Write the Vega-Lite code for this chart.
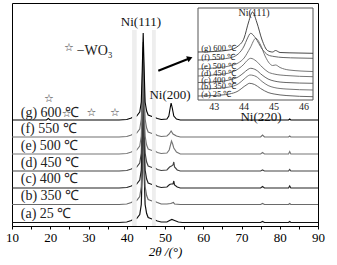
{
 "$schema": "https://vega.github.io/schema/vega-lite/v6.json",
 "width": 306, "height": 223,
 "autosize": "none",
 "padding": {"left": 12, "top": 3, "right": 19, "bottom": 39},
 "background": "white",
 "config": {"view": {"stroke": "#000", "strokeWidth": 1}},
 "datasets": {
  "main": [
   {"s":"a","x":10,"y":4.5},{"s":"a","x":38,"y":4.5},{"s":"a","x":40,"y":5},{"s":"a","x":41.2,"y":6.5},{"s":"a","x":41.6,"y":7.5},{"s":"a","x":42.6,"y":8.5},{"s":"a","x":43.4,"y":12.5},{"s":"a","x":43.8,"y":22.5},{"s":"a","x":44.05,"y":54.5},{"s":"a","x":44.3,"y":160},{"s":"a","x":44.55,"y":54.5},{"s":"a","x":44.8,"y":22.5},{"s":"a","x":45.2,"y":13.5},{"s":"a","x":45.6,"y":9.5},{"s":"a","x":46.6,"y":8},{"s":"a","x":47.4,"y":7},{"s":"a","x":48,"y":6},{"s":"a","x":49,"y":5},{"s":"a","x":50.5,"y":5},{"s":"a","x":51.2,"y":6.5},{"s":"a","x":51.8,"y":7.5},{"s":"a","x":52.5,"y":6.5},{"s":"a","x":53.5,"y":5},{"s":"a","x":54.5,"y":4.5},{"s":"a","x":75,"y":4.5},{"s":"a","x":75.5,"y":5.5},{"s":"a","x":76,"y":4.5},{"s":"a","x":82.3,"y":4.5},{"s":"a","x":82.6,"y":5.5},{"s":"a","x":82.9,"y":4.5},{"s":"a","x":90,"y":4.5},
   {"s":"b","x":10,"y":22.5},{"s":"b","x":38,"y":22.5},{"s":"b","x":40,"y":23},{"s":"b","x":41.2,"y":24.5},{"s":"b","x":41.6,"y":25.5},{"s":"b","x":42.6,"y":26.5},{"s":"b","x":43.4,"y":30.5},{"s":"b","x":43.8,"y":40.5},{"s":"b","x":44.05,"y":72.5},{"s":"b","x":44.3,"y":165},{"s":"b","x":44.55,"y":72.5},{"s":"b","x":44.8,"y":40.5},{"s":"b","x":45.2,"y":31.5},{"s":"b","x":45.6,"y":27.5},{"s":"b","x":46.6,"y":26},{"s":"b","x":47.4,"y":25.5},{"s":"b","x":48,"y":24.5},{"s":"b","x":49,"y":23},{"s":"b","x":50.5,"y":23},{"s":"b","x":51.5,"y":23.5},{"s":"b","x":52.2,"y":24.5},{"s":"b","x":52.5,"y":23},{"s":"b","x":54,"y":22.5},{"s":"b","x":75,"y":22.5},{"s":"b","x":75.5,"y":23.5},{"s":"b","x":76,"y":22.5},{"s":"b","x":82.3,"y":22.5},{"s":"b","x":82.6,"y":23.5},{"s":"b","x":82.9,"y":22.5},{"s":"b","x":90,"y":22.5},
   {"s":"c","x":10,"y":39},{"s":"c","x":38,"y":39},{"s":"c","x":40,"y":39.5},{"s":"c","x":41.2,"y":41},{"s":"c","x":41.6,"y":42},{"s":"c","x":42.6,"y":43},{"s":"c","x":43.4,"y":47},{"s":"c","x":43.8,"y":57},{"s":"c","x":44.05,"y":89},{"s":"c","x":44.3,"y":170},{"s":"c","x":44.55,"y":89},{"s":"c","x":44.8,"y":57},{"s":"c","x":45.2,"y":48},{"s":"c","x":45.6,"y":44},{"s":"c","x":46.6,"y":42.5},{"s":"c","x":47.4,"y":42},{"s":"c","x":48,"y":40.5},{"s":"c","x":49,"y":39.5},{"s":"c","x":50.5,"y":40},{"s":"c","x":51.2,"y":42.5},{"s":"c","x":51.6,"y":43},{"s":"c","x":52.1,"y":43},{"s":"c","x":52.3,"y":46},{"s":"c","x":52.5,"y":42},{"s":"c","x":53.2,"y":40},{"s":"c","x":54,"y":39},{"s":"c","x":75,"y":39},{"s":"c","x":75.5,"y":40.5},{"s":"c","x":76,"y":39},{"s":"c","x":82.3,"y":39},{"s":"c","x":82.6,"y":41},{"s":"c","x":82.9,"y":39},{"s":"c","x":90,"y":39},
   {"s":"d","x":10,"y":56},{"s":"d","x":38,"y":56},{"s":"d","x":40,"y":56.5},{"s":"d","x":41.2,"y":58},{"s":"d","x":41.6,"y":59},{"s":"d","x":42.6,"y":60},{"s":"d","x":43.4,"y":64},{"s":"d","x":43.8,"y":74},{"s":"d","x":44.05,"y":106},{"s":"d","x":44.3,"y":175},{"s":"d","x":44.55,"y":106},{"s":"d","x":44.8,"y":74},{"s":"d","x":45.2,"y":65},{"s":"d","x":45.6,"y":61},{"s":"d","x":46.6,"y":59.5},{"s":"d","x":47.4,"y":59},{"s":"d","x":48,"y":57.5},{"s":"d","x":49,"y":56.5},{"s":"d","x":50.5,"y":57},{"s":"d","x":51.2,"y":60},{"s":"d","x":51.7,"y":61},{"s":"d","x":52.1,"y":62},{"s":"d","x":52.3,"y":65},{"s":"d","x":52.5,"y":60},{"s":"d","x":53.2,"y":57},{"s":"d","x":54,"y":56},{"s":"d","x":75,"y":56},{"s":"d","x":75.5,"y":57},{"s":"d","x":76,"y":56},{"s":"d","x":82.3,"y":56},{"s":"d","x":82.6,"y":57.5},{"s":"d","x":82.9,"y":56},{"s":"d","x":90,"y":56},
   {"s":"e","x":10,"y":73},{"s":"e","x":38,"y":73},{"s":"e","x":40,"y":73.5},{"s":"e","x":41.2,"y":75},{"s":"e","x":41.6,"y":76},{"s":"e","x":42.6,"y":77},{"s":"e","x":43.4,"y":81},{"s":"e","x":43.8,"y":91},{"s":"e","x":44.05,"y":123},{"s":"e","x":44.3,"y":180},{"s":"e","x":44.55,"y":123},{"s":"e","x":44.8,"y":91},{"s":"e","x":45.2,"y":82},{"s":"e","x":45.6,"y":78},{"s":"e","x":46.6,"y":76.5},{"s":"e","x":47.4,"y":76},{"s":"e","x":48,"y":74.5},{"s":"e","x":49,"y":73.5},{"s":"e","x":50.5,"y":74},{"s":"e","x":51.1,"y":77},{"s":"e","x":51.5,"y":83},{"s":"e","x":51.7,"y":86},{"s":"e","x":52.0,"y":83},{"s":"e","x":52.3,"y":79},{"s":"e","x":53,"y":75},{"s":"e","x":54,"y":73},{"s":"e","x":75,"y":73},{"s":"e","x":75.5,"y":74.5},{"s":"e","x":76,"y":73},{"s":"e","x":82.3,"y":73},{"s":"e","x":82.6,"y":75.5},{"s":"e","x":82.9,"y":73},{"s":"e","x":90,"y":73},
   {"s":"f","x":10,"y":90},{"s":"f","x":38,"y":90},{"s":"f","x":40,"y":90.5},{"s":"f","x":41.2,"y":92},{"s":"f","x":41.6,"y":93},{"s":"f","x":42.6,"y":94},{"s":"f","x":43.4,"y":98},{"s":"f","x":43.8,"y":108},{"s":"f","x":44.05,"y":140},{"s":"f","x":44.3,"y":185},{"s":"f","x":44.55,"y":140},{"s":"f","x":44.8,"y":108},{"s":"f","x":45.2,"y":99},{"s":"f","x":45.6,"y":95},{"s":"f","x":46.6,"y":93.5},{"s":"f","x":47.4,"y":93},{"s":"f","x":48,"y":91.5},{"s":"f","x":49,"y":90.5},{"s":"f","x":50.5,"y":91},{"s":"f","x":51.1,"y":93},{"s":"f","x":51.6,"y":96},{"s":"f","x":52.1,"y":93},{"s":"f","x":53,"y":91},{"s":"f","x":54,"y":90},{"s":"f","x":75,"y":90},{"s":"f","x":75.5,"y":92},{"s":"f","x":76,"y":90},{"s":"f","x":82.3,"y":90},{"s":"f","x":82.6,"y":91},{"s":"f","x":82.9,"y":90},{"s":"f","x":90,"y":90},
   {"s":"g","x":10,"y":107},{"s":"g","x":19,"y":107},{"s":"g","x":19.5,"y":108.5},{"s":"g","x":20,"y":107},{"s":"g","x":38,"y":107},{"s":"g","x":40,"y":107.5},{"s":"g","x":41.2,"y":109},{"s":"g","x":41.6,"y":110},{"s":"g","x":42.6,"y":111},{"s":"g","x":43.4,"y":115},{"s":"g","x":43.8,"y":125},{"s":"g","x":44.05,"y":157},{"s":"g","x":44.3,"y":194},{"s":"g","x":44.55,"y":157},{"s":"g","x":44.8,"y":125},{"s":"g","x":45.2,"y":116},{"s":"g","x":45.6,"y":112},{"s":"g","x":46.6,"y":110.5},{"s":"g","x":47.4,"y":109.5},{"s":"g","x":48,"y":108.5},{"s":"g","x":49,"y":107.5},{"s":"g","x":50.5,"y":108},{"s":"g","x":51.0,"y":111},{"s":"g","x":51.4,"y":120},{"s":"g","x":51.6,"y":124},{"s":"g","x":51.9,"y":119},{"s":"g","x":52.3,"y":111},{"s":"g","x":53,"y":108},{"s":"g","x":54,"y":107},{"s":"g","x":75,"y":107},{"s":"g","x":75.5,"y":107.5},{"s":"g","x":76,"y":107},{"s":"g","x":82.3,"y":107},{"s":"g","x":82.6,"y":108},{"s":"g","x":82.9,"y":107},{"s":"g","x":90,"y":107}
  ],
  "bands": [{"x":41.4,"x2":42.6,"y":1,"y2":197},{"x":46.6,"x2":47.6,"y":1,"y2":197}],
  "labels": [
   {"t":"(g) 600 ℃","x":12.3,"y":114.3},{"t":"(f) 550 ℃","x":12.3,"y":98},{"t":"(e) 500 ℃","x":12.3,"y":81.3},{"t":"(d) 450 ℃","x":12.3,"y":64.3},{"t":"(c) 400 ℃","x":12.3,"y":48},{"t":"(b) 350 ℃","x":12.3,"y":31},{"t":"(a) 25 ℃","x":12.3,"y":13}
  ],
  "peaks": [{"t":"Ni(111)","x":43.7,"y":205.3},{"t":"Ni(200)","x":51.3,"y":132},{"t":"Ni(220)","x":75.1,"y":110.3}],
  "stars": [{"x":19.67,"y":127.7},{"x":24.3,"y":112.7},{"x":30.8,"y":113.7},{"x":36.9,"y":113.7},{"x":24.9,"y":179.3}],
  "wo3": [{"t":"−WO₃","x":26.9,"y":176}],
  "arrow": [{"x":48.25,"y":156.3,"x2":56.5,"y2":168.7}],
  "head": [{"x":56.5,"y":168.7}],
  "frame": [{"x":42.46,"x2":46.3,"y":0,"y2":92}],
  "inset": [
   {"s":"a","x":42.46,"y":4},{"s":"a","x":43.0,"y":4.5},{"s":"a","x":43.5,"y":6},{"s":"a","x":43.8,"y":9},{"s":"a","x":44.0,"y":13.5},{"s":"a","x":44.1,"y":15.5},{"s":"a","x":44.17,"y":16.7},{"s":"a","x":44.35,"y":15.5},{"s":"a","x":44.55,"y":11.5},{"s":"a","x":44.8,"y":7.5},{"s":"a","x":45.0,"y":6},{"s":"a","x":45.4,"y":4.5},{"s":"a","x":46.3,"y":3.3},
   {"s":"b","x":42.46,"y":11},{"s":"b","x":43.0,"y":11.5},{"s":"b","x":43.5,"y":13},{"s":"b","x":43.8,"y":16},{"s":"b","x":44.0,"y":21},{"s":"b","x":44.1,"y":23.5},{"s":"b","x":44.2,"y":25},{"s":"b","x":44.4,"y":23.5},{"s":"b","x":44.6,"y":18.5},{"s":"b","x":44.8,"y":14.5},{"s":"b","x":45.0,"y":12.5},{"s":"b","x":45.4,"y":11},{"s":"b","x":46.3,"y":10},
   {"s":"c","x":42.46,"y":17.5},{"s":"c","x":43.0,"y":18},{"s":"c","x":43.5,"y":20},{"s":"c","x":43.8,"y":23},{"s":"c","x":44.0,"y":27.5},{"s":"c","x":44.1,"y":30},{"s":"c","x":44.22,"y":31.7},{"s":"c","x":44.4,"y":30},{"s":"c","x":44.6,"y":25},{"s":"c","x":44.8,"y":21},{"s":"c","x":45.0,"y":19},{"s":"c","x":45.4,"y":17.5},{"s":"c","x":46.3,"y":16.7},
   {"s":"d","x":42.46,"y":24},{"s":"d","x":43.0,"y":25},{"s":"d","x":43.5,"y":27},{"s":"d","x":43.8,"y":31},{"s":"d","x":44.0,"y":36},{"s":"d","x":44.1,"y":39.5},{"s":"d","x":44.22,"y":41.7},{"s":"d","x":44.4,"y":39},{"s":"d","x":44.6,"y":33},{"s":"d","x":44.8,"y":28},{"s":"d","x":45.0,"y":26},{"s":"d","x":45.4,"y":24.5},{"s":"d","x":46.3,"y":23.3},
   {"s":"e","x":42.46,"y":31},{"s":"e","x":43.0,"y":32},{"s":"e","x":43.5,"y":34},{"s":"e","x":43.8,"y":37},{"s":"e","x":44.0,"y":42},{"s":"e","x":44.2,"y":52},{"s":"e","x":44.39,"y":61.7},{"s":"e","x":44.55,"y":55},{"s":"e","x":44.7,"y":44},{"s":"e","x":44.85,"y":36.5},{"s":"e","x":44.95,"y":34.5},{"s":"e","x":45.05,"y":35},{"s":"e","x":45.2,"y":32.5},{"s":"e","x":45.5,"y":30},{"s":"e","x":46.3,"y":28.5},
   {"s":"f","x":42.46,"y":40},{"s":"f","x":43.0,"y":40.5},{"s":"f","x":43.5,"y":42},{"s":"f","x":43.8,"y":46},{"s":"f","x":44.0,"y":54},{"s":"f","x":44.1,"y":61},{"s":"f","x":44.22,"y":66.7},{"s":"f","x":44.38,"y":62},{"s":"f","x":44.6,"y":51},{"s":"f","x":44.8,"y":45},{"s":"f","x":45.0,"y":43.5},{"s":"f","x":45.3,"y":42.5},{"s":"f","x":45.8,"y":42},{"s":"f","x":46.3,"y":41.7},
   {"s":"g","x":42.46,"y":48},{"s":"g","x":43.0,"y":48.5},{"s":"g","x":43.5,"y":50},{"s":"g","x":43.8,"y":54},{"s":"g","x":44.0,"y":62},{"s":"g","x":44.15,"y":78},{"s":"g","x":44.28,"y":88},{"s":"g","x":44.42,"y":78},{"s":"g","x":44.6,"y":60},{"s":"g","x":44.78,"y":49.5},{"s":"g","x":44.95,"y":48},{"s":"g","x":45.05,"y":49.5},{"s":"g","x":45.2,"y":47.5},{"s":"g","x":45.8,"y":47},{"s":"g","x":46.3,"y":46.7}
  ],
  "ilabels": [
   {"t":"(g) 600 ℃","x":42.57,"y":51.7},{"t":"(f) 550 ℃","x":42.57,"y":43.3},{"t":"(e) 500 ℃","x":42.57,"y":34},{"t":"(d) 450 ℃","x":42.57,"y":26.7},{"t":"(c) 400 ℃","x":42.57,"y":20},{"t":"(b) 350 ℃","x":42.57,"y":14},{"t":"(a) 25 ℃","x":42.57,"y":5.7}
  ],
  "iticks": [{"t":"43","x":43,"y":-6.7},{"t":"44","x":44,"y":-6.7},{"t":"45","x":45,"y":-6.7},{"t":"46","x":46,"y":-6.7}],
  "ititle": [{"t":"Ni(111)","x":44.33,"y":87.5}]
 },
 "layer": [
  {
   "encoding": {
    "x": {"field": "x", "type": "quantitative", "scale": {"domain": [10, 90], "nice": false, "zero": false},
      "axis": {"values": [10,15,20,25,30,35,40,45,50,55,60,65,70,75,80,85,90], "labelExpr": "datum.value % 10 === 0 ? datum.label : ''", "tickSize": 3, "tickColor": "#000", "domainColor": "#000", "labelFont": "Liberation Serif", "labelFontSize": 13, "labelColor": "#000", "labelPadding": 2, "labelFlush": false, "labelOverlap": false, "grid": false, "title": "2θ /(°)", "titleFont": "Liberation Serif", "titleFontSize": 13, "titleFontWeight": "normal", "titleFontStyle": "italic", "titleColor": "#000", "titlePadding": 1}},
    "y": {"field": "y", "type": "quantitative", "scale": {"domain": [1, 224], "nice": false, "zero": false}, "axis": null}
   },
   "layer": [
    {"data": {"name": "main"}, "mark": {"type": "line"},
     "encoding": {"color": {"field": "s", "type": "nominal", "scale": {"domain": ["a","b","c","d","e","f","g"], "range": ["#111111","#6a6a6a","#222222","#444444","#777777","#707070","#000000"]}, "legend": null},
      "strokeWidth": {"field": "s", "type": "nominal", "scale": {"domain": ["a","b","c","d","e","f","g"], "range": [1.2,1.1,1.2,1.2,1.1,1.1,1.7]}, "legend": null}}},
    {"data": {"name": "bands"}, "mark": {"type": "rect", "color": "#eeeeee"},
     "encoding": {"x2": {"field": "x2"}, "y2": {"field": "y2"}}},
    {"data": {"name": "labels"}, "mark": {"type": "text", "align": "left", "baseline": "middle", "font": "Liberation Serif", "fontSize": 14, "color": "#222"},
     "encoding": {"text": {"field": "t"}}},
    {"data": {"name": "peaks"}, "mark": {"type": "text", "align": "center", "baseline": "middle", "font": "Liberation Serif", "fontSize": 13, "color": "#111"},
     "encoding": {"text": {"field": "t"}}},
    {"data": {"name": "stars"}, "mark": {"type": "text", "align": "center", "baseline": "middle", "font": "DejaVu Sans", "fontSize": 11, "color": "#333", "text": "☆"},
     "encoding": {}},
    {"data": {"name": "wo3"}, "mark": {"type": "text", "align": "left", "baseline": "middle", "font": "Liberation Serif", "fontSize": 14, "color": "#222"},
     "encoding": {"text": {"field": "t"}}},
    {"data": {"name": "arrow"}, "mark": {"type": "rule", "strokeWidth": 2, "color": "#000"},
     "encoding": {"x2": {"field": "x2"}, "y2": {"field": "y2"}}},
    {"data": {"name": "head"}, "mark": {"type": "point", "shape": "triangle-right", "filled": true, "size": 40, "color": "#000", "opacity": 1, "angle": 338.6},
     "encoding": {}}
   ]
  },
  {
   "encoding": {
    "x": {"field": "x", "type": "quantitative", "scale": {"domain": [42.46, 46.3], "range": [186, 301], "nice": false, "zero": false}, "axis": null},
    "y": {"field": "y", "type": "quantitative", "scale": {"domain": [0, 92], "range": [97, 5], "nice": false, "zero": false}, "axis": null}
   },
   "layer": [
    {"data": {"name": "frame"}, "mark": {"type": "rect", "fill": "#ffffff", "stroke": "#555555", "strokeWidth": 1},
     "encoding": {"x2": {"field": "x2"}, "y2": {"field": "y2"}}},
    {"data": {"name": "inset"}, "mark": {"type": "line", "strokeWidth": 0.9, "interpolate": "monotone"},
     "encoding": {"color": {"field": "s", "type": "nominal", "scale": {"domain": ["a","b","c","d","e","f","g"], "range": ["#555555","#666666","#555555","#666666","#666666","#555555","#333333"]}, "legend": null}}},
    {"data": {"name": "ilabels"}, "mark": {"type": "text", "align": "left", "baseline": "middle", "font": "Liberation Serif", "fontSize": 8.5, "color": "#222"},
     "encoding": {"text": {"field": "t"}}},
    {"data": {"name": "iticks"}, "mark": {"type": "text", "align": "center", "baseline": "middle", "font": "Liberation Serif", "fontSize": 10, "color": "#222"},
     "encoding": {"text": {"field": "t"}}},
    {"data": {"name": "ititle"}, "mark": {"type": "text", "align": "center", "baseline": "middle", "font": "Liberation Serif", "fontSize": 10, "color": "#222"},
     "encoding": {"text": {"field": "t"}}}
   ]
  }
 ],
 "resolve": {"scale": {"x": "independent", "y": "independent", "color": "independent"}}
}
